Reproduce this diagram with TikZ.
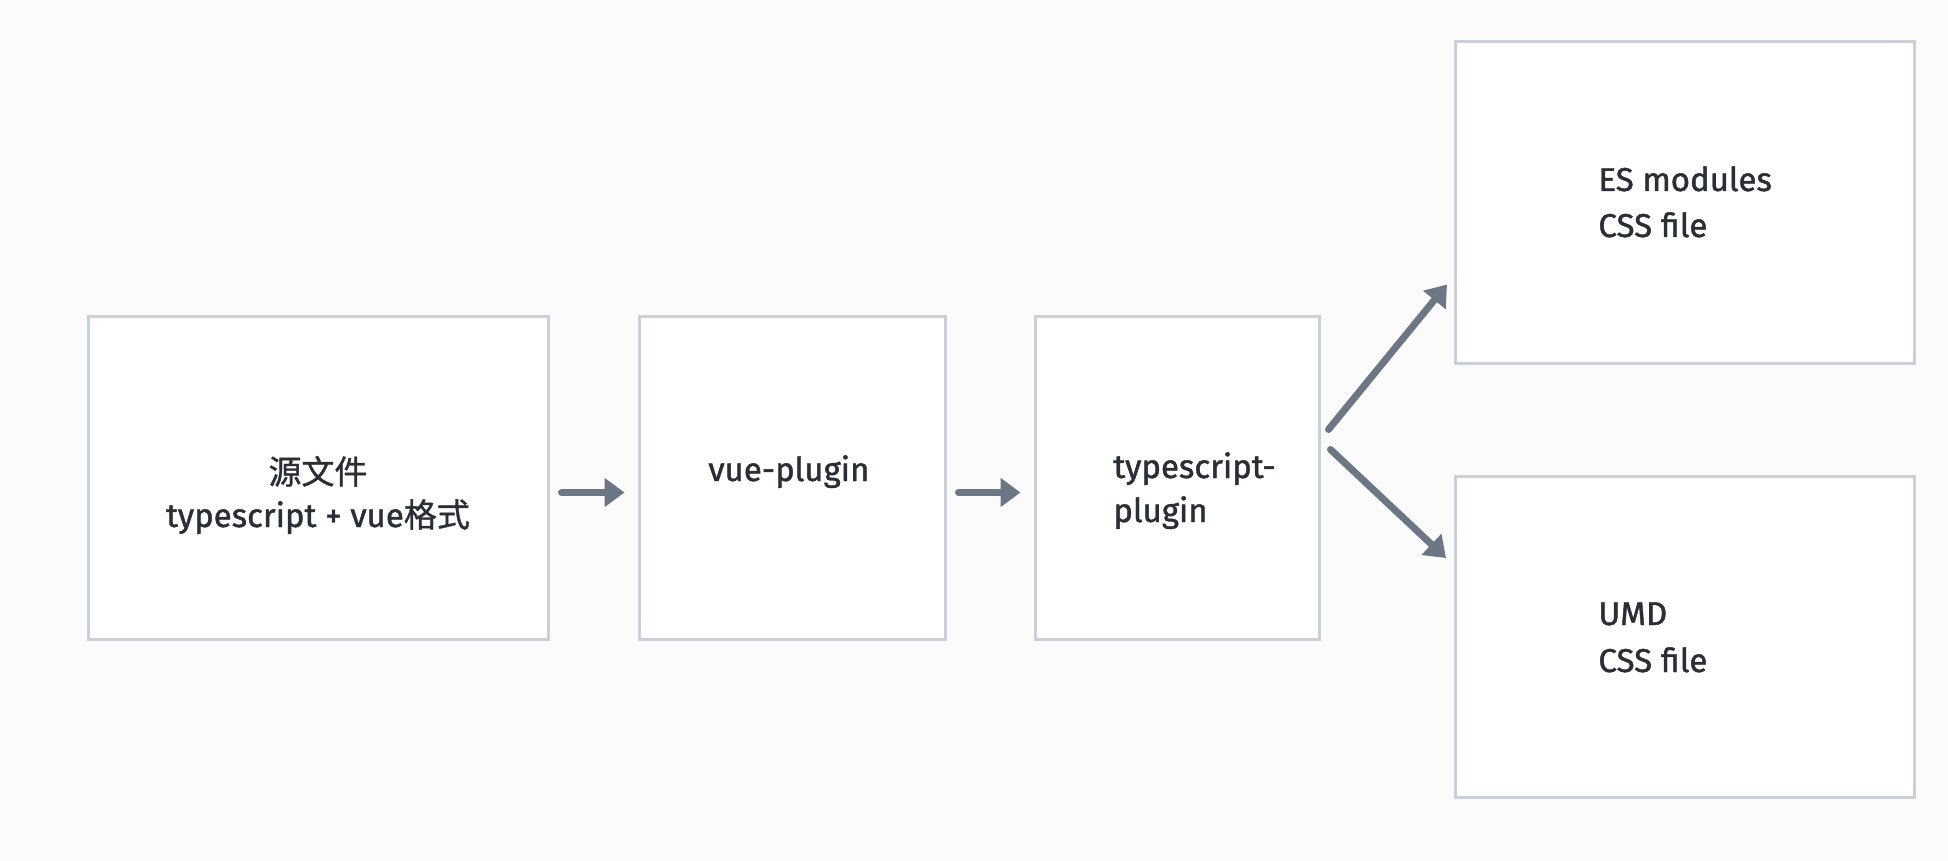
\documentclass[tikz,border=0pt]{standalone}
\usepackage{fontspec}
\newfontfamily\lblfont{Fira Sans}[FakeBold=1.3]
\newfontfamily\cjk{Noto Sans CJK SC}[FakeBold=1]
\usetikzlibrary{arrows.meta}
\definecolor{bg}{HTML}{FBFBFC}
\definecolor{boxline}{HTML}{CBD0D8}
\definecolor{arrowc}{HTML}{6C7786}
\definecolor{txt}{HTML}{2A2E35}
\tikzset{
  boxnode/.style={draw=boxline, line width=1.5pt, fill=white, inner sep=0pt},
  lbl/.style={inner sep=0pt, text=txt, font=\fontsize{16.5}{20}\selectfont\lblfont},
  arr/.style={draw=arrowc, line width=3.5pt, line cap=round,
    -{Triangle[length=10pt,width=14pt]}, shorten >=0pt}
}
\begin{document}
\begin{tikzpicture}[x=0.5pt,y=-0.5pt]
\fill[bg] (0,0) rectangle (1948,861);
\useasboundingbox (0,0) rectangle (1948,861);
% boxes
\node[boxnode, minimum width=230pt, minimum height=161.5pt] (b1) at (318,477.5) {};
\node[boxnode, minimum width=153pt, minimum height=161.5pt] (b2) at (792,477.5) {};
\node[boxnode, minimum width=142pt, minimum height=161.5pt] (b3) at (1177,477.5) {};
\node[boxnode, minimum width=229.5pt, minimum height=160.5pt] (b4) at (1685,202.5) {};
\node[boxnode, minimum width=229.5pt, minimum height=160.5pt] (b5) at (1685,637) {};
% labels
\node[lbl, anchor=base] (t1a) at (318,484) {\cjk 源文件};
\node[lbl, anchor=base] (t1b) at (318,527) {typescript + vue{\cjk 格式}};
\node[lbl, anchor=base west] (t2) at (708,481) {vue-plugin};
\node[lbl, anchor=base west] (t3a) at (1113,478) {typescript-};
\node[lbl, anchor=base west] (t3b) at (1113,522) {plugin};
\node[lbl, anchor=base west] (t4a) at (1598,191) {ES modules};
\node[lbl, anchor=base west] (t4b) at (1598,237) {CSS file};
\node[lbl, anchor=base west] (t5a) at (1598,625) {UMD};
\node[lbl, anchor=base west] (t5b) at (1598,672) {CSS file};
% connectors
\draw[arr] ([shift={(12,15)}]b1.east) -- ([shift={(-13,15)}]b2.west);
\draw[arr] ([shift={(12,15)}]b2.east) -- ([shift={(-13,15)}]b3.west);
\draw[arr] ([shift={(8,-48)}]b3.east) -- ([shift={(-7,-80)}]b4.south west);
\draw[arr] ([shift={(10,-28)}]b3.east) -- ([shift={(-8,83)}]b5.north west);
\end{tikzpicture}
\end{document}
